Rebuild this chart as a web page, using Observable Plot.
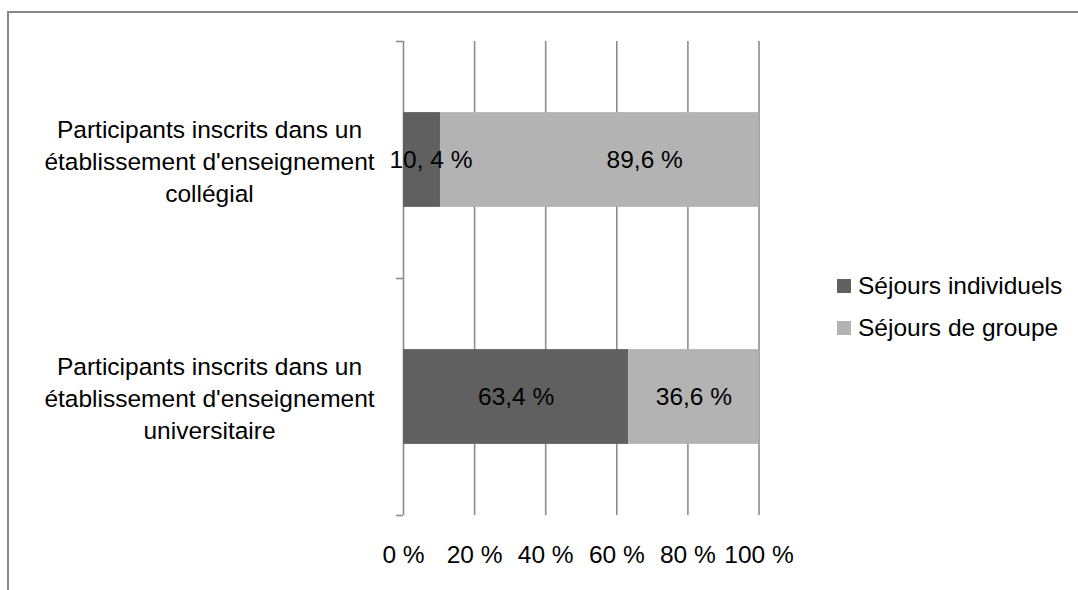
<!DOCTYPE html>
<html><head><meta charset="utf-8">
<script src="https://cdn.jsdelivr.net/npm/d3@7"></script>
<script src="https://cdn.jsdelivr.net/npm/@observablehq/plot@0.6"></script>
<style>
body{margin:0;background:#fff;font-family:"Liberation Sans",Arial,sans-serif;}
#wrap{position:relative;width:1078px;height:590px;overflow:hidden;background:#fff;}
#frame{position:absolute;left:7px;top:11px;width:1200px;height:800px;border:2px solid #888;}
#chart{position:absolute;left:0;top:0;}
#legend{position:absolute;left:837px;top:265px;font-size:24.5px;color:#000;}
.row{display:flex;align-items:center;height:42px;}
.sw{width:14px;height:14px;margin-right:7px;}
</style></head><body>
<div id="wrap"><div id="frame"></div><div id="chart"></div><div id="legend"></div></div>
<script>
const categories = [
  "Participants inscrits dans un\nétablissement d'enseignement\ncollégial",
  "Participants inscrits dans un\nétablissement d'enseignement\nuniversitaire"
];
const series = ["Séjours individuels", "Séjours de groupe"];
const individuels = [10.4, 63.4];
const groupe = [89.6, 36.6];
const valueLabels = [["10, 4 %", "89,6 %"], ["63,4 %", "36,6 %"]];
const xTicks = [0, 20, 40, 60, 80, 100];
const xTickLabels = ["0 %", "20 %", "40 %", "60 %", "80 %", "100 %"];
const colors = ["#606060", "#b3b3b3"];

const rows = [];
categories.forEach((c, i) => {
  const vals = [individuels[i], groupe[i]];
  let acc = 0;
  vals.forEach((v, s) => {
    rows.push({i, cat: c, series: series[s], x1: acc, x2: acc + v, label: valueLabels[i][s], s});
    acc += v;
  });
});

const barPad = 0.3;
const fs = 24.5;
const mid = d => (d.x1 + d.x2) / 2;
const yMid = d => d.i + 0.5;

const plot = Plot.plot({
  width: 1078,
  height: 590,
  marginLeft: 403,
  marginRight: 319.5,
  marginTop: 41,
  marginBottom: 75,
  style: {fontFamily: "'Liberation Sans', Arial, sans-serif", fontSize: fs + "px", color: "#000", background: "transparent"},
  x: {domain: [0, 100]},
  y: {domain: [0, categories.length], reverse: true},
  color: {domain: series, range: colors},
  marks: [
    Plot.ruleX(xTicks.slice(1), {y1: 0, y2: categories.length, stroke: "#8c8c8c", strokeWidth: 1.6}),
    Plot.ruleX([0], {y1: 0, y2: categories.length, stroke: "#8c8c8c", strokeWidth: 1.6}),
    Plot.rectX(rows, {x1: "x1", x2: "x2", y1: d => d.i + barPad, y2: d => d.i + 1 - barPad, fill: "series"}),
    Plot.text(rows.filter(d => d.i !== 0), {x: mid, y: yMid, text: "label", fontSize: fs, fill: "#000"}),
    Plot.text(rows.filter(d => d.i === 0 && d.s === 0), {x: mid, y: yMid, text: "label", fontSize: fs, fill: "#000", dx: 9}),
    Plot.text(rows.filter(d => d.i === 0 && d.s === 1), {x: mid, y: yMid, text: "label", fontSize: fs, fill: "#000", dx: 45}),
    Plot.axisX({ticks: xTicks, tickFormat: d => xTickLabels[xTicks.indexOf(d)], tickSize: 0, tickPadding: 30, fontSize: fs, fill: "#000"}),
    Plot.axisY({ticks: d3.range(categories.length + 1), tickFormat: () => "", tickSize: 7, stroke: "#8c8c8c", strokeWidth: 1.6}),
    Plot.axisY({ticks: categories.map((c, i) => i + 0.5), tickFormat: d => categories[Math.floor(d)], tickSize: 0, tickPadding: 0, textAnchor: "middle", dx: -194, lineHeight: 1.31, fontSize: fs, fill: "#000"})
  ]
});
document.getElementById("chart").appendChild(plot);

const legend = document.getElementById("legend");
series.forEach((s, k) => {
  const row = document.createElement("div");
  row.className = "row";
  const sw = document.createElement("div");
  sw.className = "sw";
  sw.style.background = colors[k];
  const t = document.createElement("span");
  t.textContent = s;
  row.appendChild(sw);
  row.appendChild(t);
  legend.appendChild(row);
});
</script>
</body></html>
